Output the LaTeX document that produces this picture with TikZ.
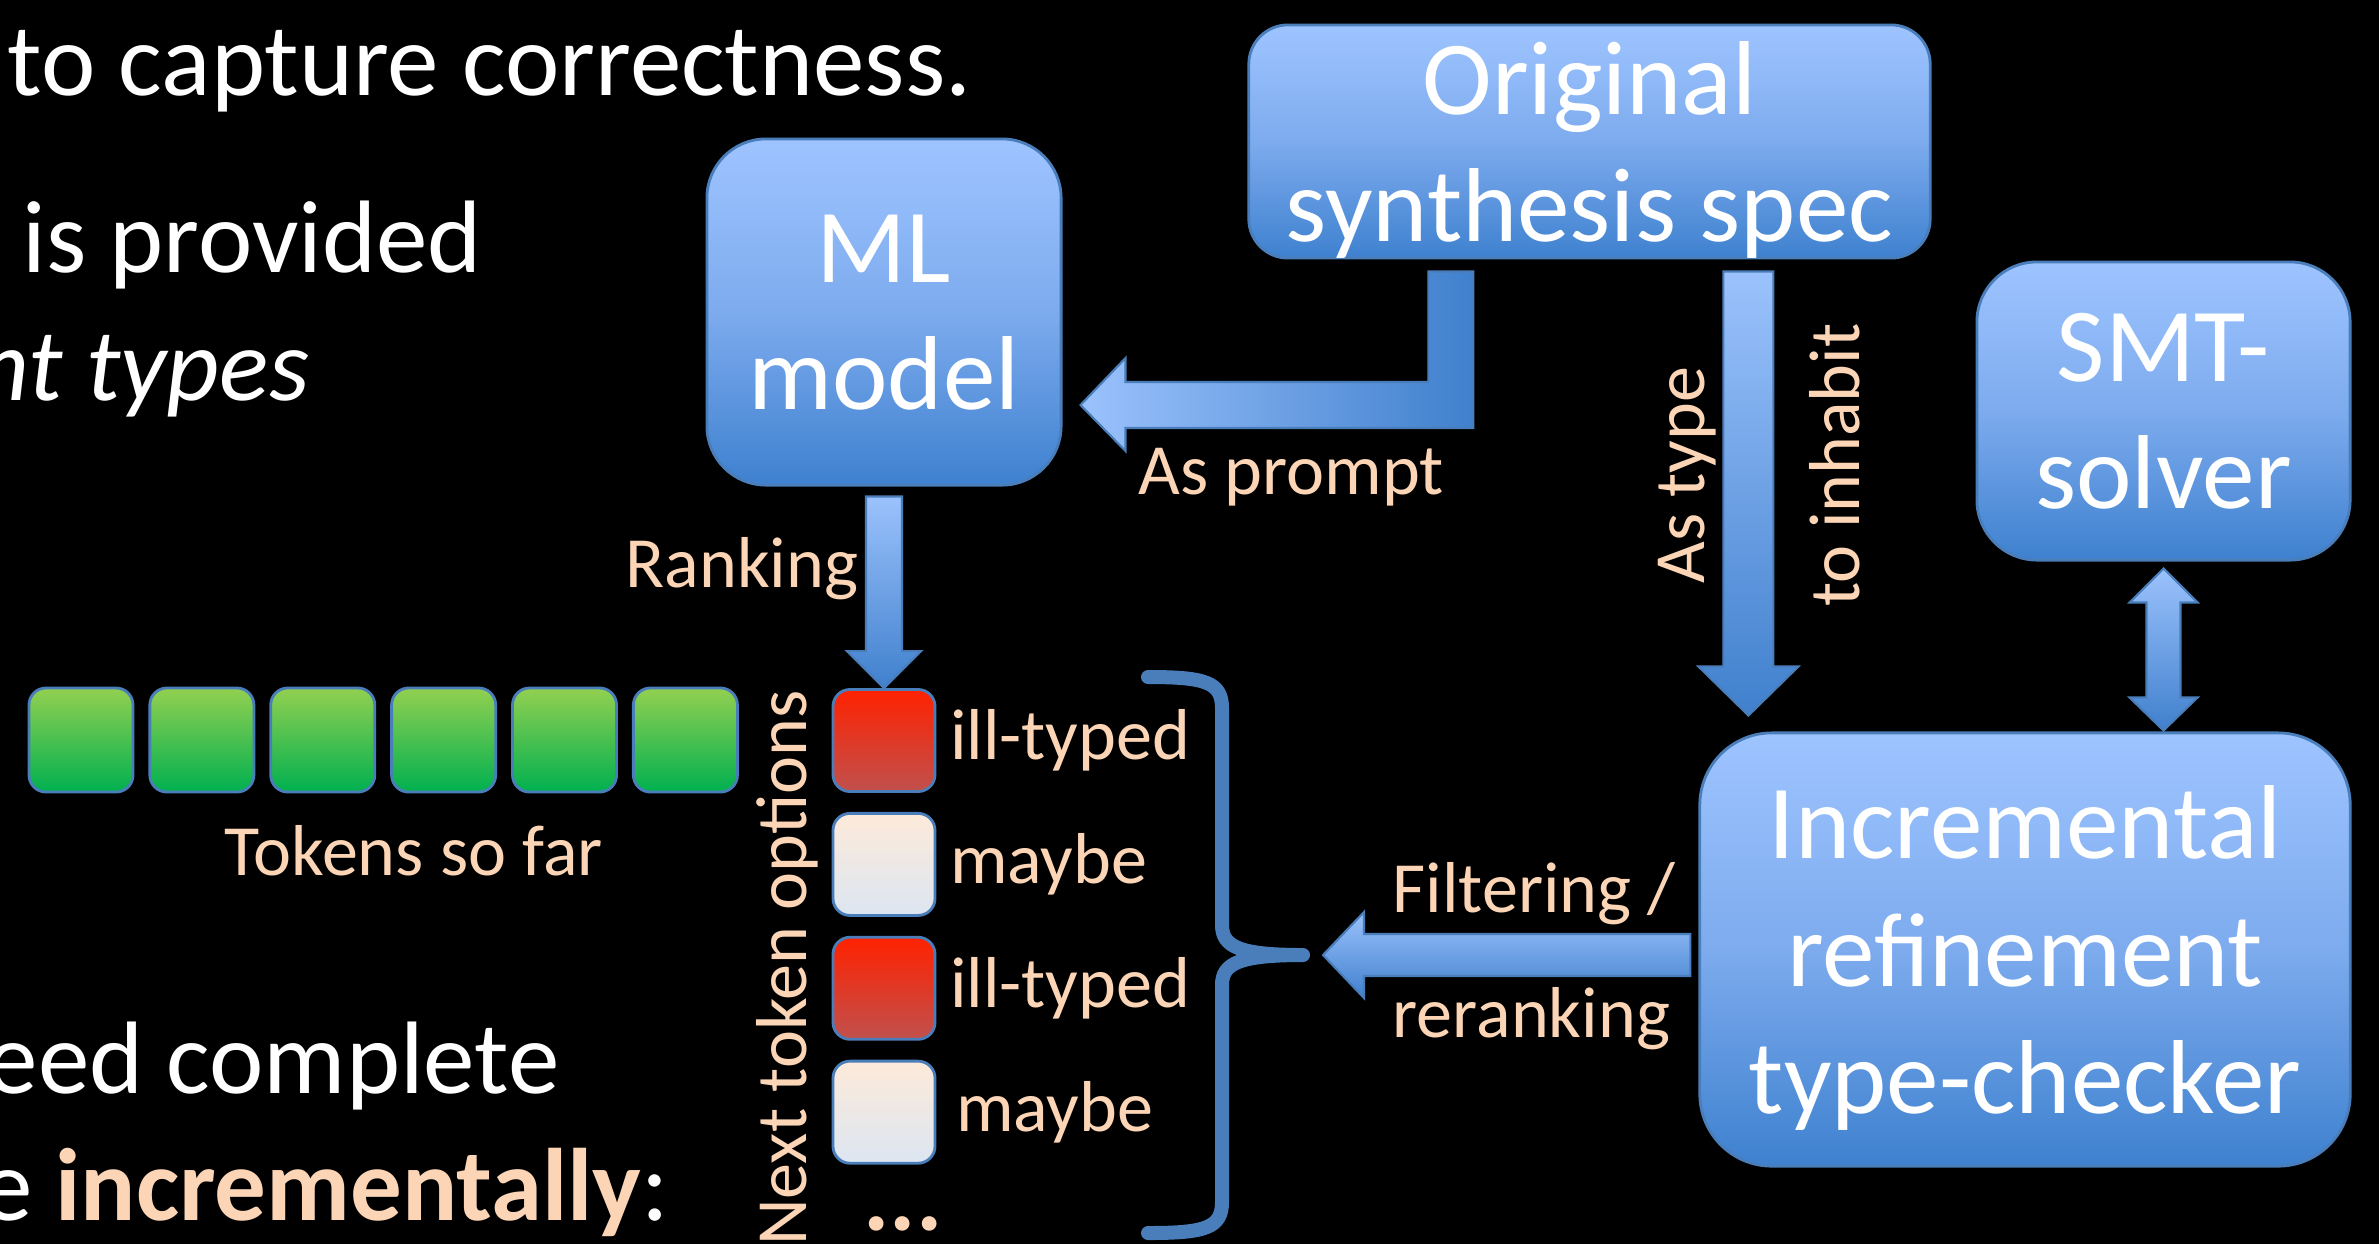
\documentclass[tikz,border=0pt]{standalone}
\usepackage{fontspec}
\setmainfont{Carlito}
\usetikzlibrary{positioning,calc}
\definecolor{peach}{RGB}{251,213,181}
\definecolor{boxtop}{RGB}{158,196,255}
\definecolor{boxmid}{RGB}{125,171,238}
\definecolor{boxbot}{RGB}{62,129,207}
\definecolor{boxline}{RGB}{74,126,187}
\definecolor{arrlight}{RGB}{155,194,252}
\definecolor{arrdark}{RGB}{64,128,205}
\definecolor{tokTop}{RGB}{146,208,80}
\definecolor{tokBot}{RGB}{0,176,80}
\definecolor{illTop}{RGB}{255,34,0}
\definecolor{illBot}{RGB}{192,80,77}
\definecolor{mayTop}{RGB}{253,234,218}
\definecolor{mayBot}{RGB}{220,230,242}
\newcommand{\bodyfont}{\fontsize{29.3}{35}\selectfont}
\newcommand{\boxfont}{\fontsize{29.9}{36.2}\selectfont}
\newcommand{\lblfont}{\fontsize{20.5}{24.6}\selectfont}

\begin{document}
\begin{tikzpicture}[x=0.01cm,y=-0.01cm,
  box/.style={draw=boxline, line width=0.8pt, top color=boxtop, bottom color=boxbot, middle color=boxmid, text=white, font=\boxfont, align=center, inner sep=0pt, text depth=0pt},
  tok/.style={draw=boxline, line width=0.8pt, rounded corners=0.17cm, top color=tokTop, bottom color=tokBot, minimum size=1.04cm, inner sep=0pt},
  illtok/.style={tok, top color=illTop, bottom color=illBot, minimum size=1.02cm},
  maybetok/.style={tok, top color=mayTop, bottom color=mayBot, minimum size=1.02cm},
  lbl/.style={text=peach, font=\lblfont, inner sep=0pt},
  body/.style={text=white, font=\bodyfont, inner sep=0pt},
  blockarrow/.style={draw=boxline, line width=0.6pt},
  curly/.style={draw=boxline, line width=0.14cm, line cap=round, line join=round}]
    \fill[black] (0,0) rectangle (2379,1244);
    \useasboundingbox (0,0) rectangle (2379,1244);
    \clip (0,0) rectangle (2379,1244);

    \node[body, anchor=base east] (l1) at (972,95) {to capture correctness.};
    \node[body, anchor=base west] (l2) at (22,272) {is provided};
    \node[body, anchor=base east, font=\bodyfont\itshape] (l3) at (310,400) {nt types};
    \node[body, anchor=base east] (l4) at (560,1093) {eed complete};
    \node[body, anchor=base east] (l5) at (670,1220) {e \textcolor{peach}{\bfseries incrementally}:};

    \node[box, minimum width=3.54cm, minimum height=3.46cm, rounded corners=0.59cm] (ml) at (884,312) {ML\\model};
    \node[box, minimum width=6.81cm, minimum height=2.33cm, rounded corners=0.39cm] (spec) at (1589.5,141.5) {Original\\synthesis spec};
    \node[box, minimum width=3.73cm, minimum height=2.98cm, rounded corners=0.6cm] (smt) at (2163.5,411) {SMT-\\solver};
    \node[box, minimum width=6.5cm, minimum height=4.33cm, rounded corners=0.72cm] (inc) at (2025,949.5) {Incremental\\refinement\\type-checker};

    \node[tok] (t1) at (81,740) {};
    \node[tok, right=0.14cm of t1] (t2) {};
    \node[tok, right=0.14cm of t2] (t3) {};
    \node[tok, right=0.14cm of t3] (t4) {};
    \node[tok, right=0.14cm of t4] (t5) {};
    \node[tok, right=0.14cm of t5] (t6) {};
    \node[lbl, anchor=base] (sofar) at (414,875) {Tokens so far};

    \node[illtok] (o1) at (884,740.5) {};
    \node[maybetok, below=0.19cm of o1] (o2) {};
    \node[illtok, below=0.19cm of o2] (o3) {};
    \node[maybetok, below=0.19cm of o3] (o4) {};
    \node[lbl, right=0.13cm of o1] (o1txt) {ill-typed};
    \node[lbl, right=0.13cm of o2] (o2txt) {maybe};
    \node[lbl, right=0.13cm of o3] (o3txt) {ill-typed};
    \node[lbl, right=0.19cm of o4] (o4txt) {maybe};
    \node[lbl, font=\fontsize{28}{32}\selectfont\bfseries] (more) at (903,1224) {...};
    \node[lbl, rotate=90, anchor=base east] (nexttok) at (806,690) {Next token options};

    \coordinate (bracetip) at (1303,955);
    \path[curly] (1148,677) .. controls (1205,677) and (1222,682) .. (1222,708) -- (1222,925)
      .. controls (1222,947) and (1240,955) .. (bracetip)
      .. controls (1240,955) and (1222,963) .. (1222,985) -- (1222,1202)
      .. controls (1222,1228) and (1205,1233) .. (1148,1233);

    \path[blockarrow, top color=arrlight, bottom color=arrdark] ($(ml.south)+(-18,10)$) -- ++(36,0) -- ($(o1.north)+(18,-37)$) -- ++(19,0) -- (o1.north) -- ++(-37,-37) -- ++(19,0) -- cycle;
    \node[lbl, anchor=base east] (rank) at (859,587) {Ranking};

    \path[blockarrow, left color=arrlight, right color=arrdark] ($(spec.south west)+(181,12)$) coordinate (p1) -- ++(45,0) |- ($(ml.east)+(63,116)$) -- ++(0,23) -- ($(ml.east)+(18,93)$) -- ++(45,-47) -- ++(0,24) -| (p1) -- cycle;
    \node[lbl, anchor=base west] (prompt) at (1138,494) {As prompt};

    \path[blockarrow, top color=arrlight, bottom color=arrdark] ($(spec.south -| inc.north west)+(25,12)$) -- ++(50,0) -- ($(inc.north west)+(75,-65)$) -- ++(25,0) -- ($(inc.north west)+(50,-16)$) -- ++(-50,-49) -- ++(25,0) -- cycle;
    \node[lbl, rotate=90, anchor=base] (astype) at (1704,475) {As type};
    \node[lbl, rotate=90, anchor=base] (inhabit) at (1859,465) {to inhabit};

    \path[blockarrow, top color=arrlight, bottom color=arrdark] ($(smt.south)+(0,7)$) -- ++(34,34) -- ++(-17,0) -- ($(smt.south |- inc.north)+(17,-34)$) -- ++(17,0) -- ($(smt.south |- inc.north)+(0,-1)$) -- ++(-34,-33) -- ++(17,0) -- ($(smt.south)+(-17,41)$) -- ++(-17,0) -- cycle;

    \path[blockarrow, top color=arrlight, bottom color=arrdark] ($(bracetip)+(20,0)$) coordinate (ft) -- ++(41,-43) -- ++(0,22) -- ($(inc.west |- bracetip)+(-8,-21)$) -- ++(0,42) -- ($(ft)+(41,21)$) -- ++(0,22) -- cycle;
    \node[lbl, anchor=base west] (filt) at (1392,912) {Filtering /};
    \node[lbl, anchor=base west] (rerank) at (1392,1037) {reranking};
\end{tikzpicture}
\end{document}
